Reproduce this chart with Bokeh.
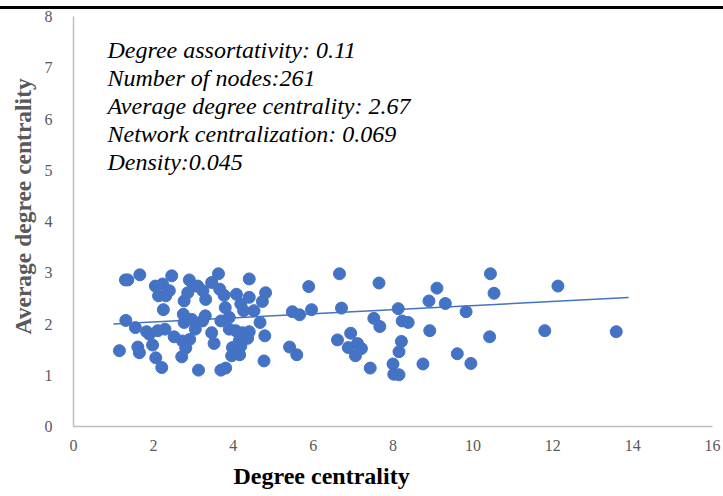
from bokeh.plotting import figure
from bokeh.models import Label, Title, ColumnDataSource
from bokeh.embed import file_html
from bokeh.resources import INLINE

# ---- data ----
degree_centrality = [
    1.15, 1.30, 1.36, 1.66, 2.05, 2.23, 2.46, 2.40, 2.13, 2.31,
    2.90, 3.02, 2.86, 2.77, 3.31, 2.25, 1.31, 1.55, 1.83, 1.90,
    2.11, 2.29, 1.98, 1.61, 1.65, 2.06, 2.21, 2.52, 2.75, 2.77,
    2.96, 3.05, 2.73, 2.91, 2.81, 2.71, 3.13, 3.23, 3.63, 3.46,
    3.11, 3.24, 3.66, 3.77, 4.40, 4.08, 4.40, 4.81, 4.73, 4.19,
    4.26, 4.52, 3.80, 3.30, 3.69, 3.90, 4.67, 3.90, 4.06, 4.23,
    4.40, 3.46, 4.36, 4.15, 4.79, 3.52, 3.98, 4.19, 4.06, 3.96,
    4.16, 4.77, 3.69, 3.81, 5.41, 5.48, 5.66, 5.59, 5.89, 5.96,
    6.66, 7.65, 6.71, 8.13, 7.52, 7.67, 6.94, 6.61, 6.88, 7.11,
    7.21, 7.06, 7.43, 8.23, 8.38, 8.21, 8.15, 8.00, 8.02, 8.15,
    10.44, 9.10, 10.53, 8.90, 9.31, 9.83, 8.92, 10.42, 9.61, 8.75,
    9.95, 12.13, 11.80, 13.59,
]
average_degree_centrality = [
    1.48, 2.86, 2.86, 2.96, 2.74, 2.78, 2.94, 2.65, 2.55, 2.55,
    2.86, 2.74, 2.61, 2.45, 2.48, 2.28, 2.07, 1.93, 1.85, 1.80,
    1.87, 1.90, 1.59, 1.55, 1.44, 1.34, 1.15, 1.75, 2.19, 2.03,
    2.09, 1.90, 1.67, 1.70, 1.53, 1.36, 1.10, 2.06, 2.98, 2.81,
    2.74, 2.65, 2.68, 2.56, 2.88, 2.58, 2.52, 2.61, 2.44, 2.39,
    2.26, 2.26, 2.32, 2.16, 2.06, 2.13, 2.03, 1.90, 1.87, 1.83,
    1.85, 1.83, 1.72, 1.67, 1.77, 1.62, 1.54, 1.57, 1.44, 1.38,
    1.40, 1.28, 1.10, 1.14, 1.55, 2.24, 2.18, 1.40, 2.73, 2.28,
    2.98, 2.80, 2.31, 2.30, 2.11, 1.95, 1.82, 1.69, 1.54, 1.62,
    1.52, 1.38, 1.14, 2.06, 2.03, 1.66, 1.46, 1.22, 1.02, 1.01,
    2.98, 2.70, 2.60, 2.45, 2.40, 2.24, 1.87, 1.75, 1.42, 1.22,
    1.23, 2.74, 1.87, 1.85,
]
trend_x = [1.0, 13.9]
trend_intercept = 1.96
trend_slope = 0.040
x_ticks = [0, 2, 4, 6, 8, 10, 12, 14, 16]
y_ticks = [0, 1, 2, 3, 4, 5, 6, 7, 8]
stats_lines = [
    "Degree assortativity: 0.11",
    "Number of nodes:261",
    "Average degree centrality: 2.67",
    "Network centralization: 0.069",
    "Density:0.045",
]
x_title = "Degree centrality"
y_title = "Average degree centrality"

BLUE = "#4472C4"
GRAY_TXT = "#595959"
AXIS_GRAY = "#BFBFBF"
SERIF = "Liberation Serif"

p = figure(width=723, height=496, x_range=(0, 16), y_range=(0, 8),
           output_backend="svg", toolbar_location=None,
           min_border_left=73, min_border_right=11, min_border_top=16,
           min_border_bottom=70)
p.outline_line_color = None
p.grid.grid_line_color = None
p.background_fill_color = "white"
p.border_fill_color = None
p.styles = {"background-image": "linear-gradient(#ffffff 0px, #ffffff 6px, #000000 6px, "
                                "#000000 9px, #ffffff 9px, #ffffff 100%)"}

for ax in (p.xaxis[0], p.yaxis[0]):
    ax.major_tick_line_color = None
    ax.minor_tick_line_color = None
    ax.axis_line_color = AXIS_GRAY
    ax.axis_line_width = 1.5
    ax.major_label_text_font = SERIF
    ax.major_label_text_font_size = "16px"
    ax.major_label_text_color = GRAY_TXT

p.xaxis.ticker = x_ticks
p.yaxis.ticker = y_ticks
p.xaxis.major_label_standoff = 7
p.yaxis.major_label_standoff = 15

has_standoff = "standoff" in Title.properties()

xt = Title(text=x_title, align="left", offset=160, text_font=SERIF,
           text_font_style="bold", text_font_size="24px", text_color="black")
if has_standoff:
    xt.standoff = 15
p.add_layout(xt, "below")

yt = Title(text=y_title, align="left", offset=92, text_font=SERIF,
           text_font_style="bold", text_font_size="23.5px", text_color=GRAY_TXT)
if has_standoff:
    yt.standoff = 12
p.add_layout(yt, "left")

src = ColumnDataSource(dict(x=degree_centrality, y=average_degree_centrality))
p.scatter("x", "y", source=src, size=12, fill_color=BLUE, line_color=BLUE)

trend_y = [trend_intercept + trend_slope * v for v in trend_x]
p.line(trend_x, trend_y, line_color=BLUE, line_width=1.5)

for i, txt in enumerate(stats_lines):
    p.add_layout(Label(x=34, y=377 - i * 28, x_units="screen", y_units="screen",
                       text=txt, text_font=SERIF, text_font_style="italic",
                       text_font_size="24px", text_color="black",
                       text_baseline="middle"))

open("out.html", "w").write(file_html(p, INLINE))
